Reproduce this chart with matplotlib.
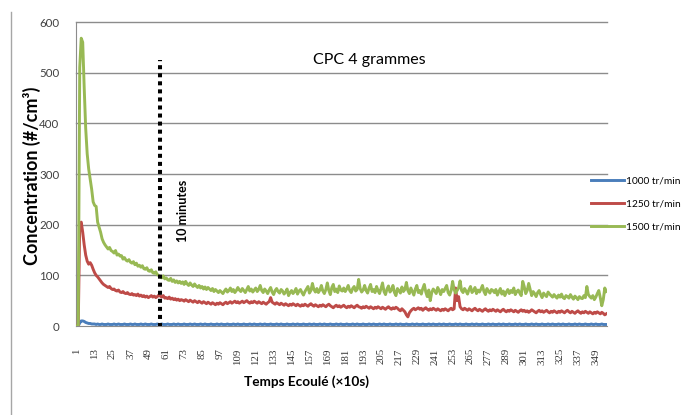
import numpy as np
import matplotlib
matplotlib.use("Agg")
import matplotlib.pyplot as plt
from matplotlib.lines import Line2D

series_names = ["1000 tr/min", "1250 tr/min", "1500 tr/min"]
series_colors = ["#4a7ebb", "#be4b48", "#98b954"]

rpm_1500 = [
    0, 0, 510, 568, 560, 470, 390, 340, 310, 290, 270, 245, 238, 236, 205, 195, 185, 172, 165, 160,
    156, 152, 155, 149, 147, 144, 149, 140, 142, 138, 139, 132, 135, 130, 128, 131, 126, 124, 127, 121,
    124, 118, 120, 116, 119, 113, 112, 115, 109, 108, 111, 105, 104, 107, 101, 100, 97, 95, 99, 93,
    95, 91, 90, 94, 88, 91, 86, 89, 85, 88, 84, 87, 82, 88, 83, 80, 85, 81, 78, 83,
    79, 76, 80, 75, 78, 73, 77, 72, 76, 73, 70, 74, 68, 72, 69, 66, 70, 67, 64, 69,
    73, 67, 70, 75, 68, 72, 66, 70, 76, 71, 68, 74, 70, 66, 72, 78, 69, 73, 67, 71,
    75, 68, 72, 80, 70, 66, 73, 69, 64, 71, 76, 67, 62, 70, 74, 68, 65, 72, 69, 63,
    67, 73, 60, 66, 70, 64, 68, 74, 63, 69, 72, 66, 61, 68, 73, 78, 65, 70, 84, 72,
    67, 74, 66, 71, 80, 69, 64, 72, 85, 70, 62, 76, 82, 68, 73, 66, 79, 71, 69, 75,
    68, 73, 80, 70, 66, 74, 78, 69, 72, 92, 74, 67, 71, 80, 70, 65, 75, 82, 68, 72,
    66, 78, 70, 64, 74, 85, 68, 62, 73, 79, 67, 71, 80, 66, 60, 74, 70, 65, 77, 68,
    72, 86, 70, 64, 75, 68, 61, 73, 80, 66, 70, 63, 74, 82, 67, 58, 71, 50, 66, 73,
    69, 64, 76, 70, 62, 72, 68, 74, 80, 66, 61, 70, 88, 72, 65, 70, 75, 89, 70, 66,
    74, 69, 63, 72, 78, 66, 70, 76, 64, 71, 67, 73, 80, 68, 62, 74, 69, 65, 72, 70,
    66, 72, 61, 68, 74, 63, 69, 60, 67, 72, 64, 70, 66, 75, 62, 68, 71, 65, 60, 88,
    78, 64, 70, 84, 72, 60, 68, 64, 58, 66, 70, 62, 56, 65, 61, 58, 67, 63, 60, 57,
    62, 58, 55, 61, 57, 63, 56, 54, 60, 58, 55, 62, 57, 53, 59, 56, 52, 58, 55, 54,
    60, 56, 78, 62, 58, 55, 60, 52, 57, 64, 70, 56, 40, 52, 75, 68,
]

rpm_1250 = [
    0, 0, 200, 205, 185, 160, 140, 128, 122, 125, 120, 112, 105, 100, 97, 93, 89, 85, 82, 80,
    78, 76, 78, 74, 72, 73, 70, 69, 71, 67, 66, 68, 65, 64, 66, 63, 62, 64, 61, 62,
    60, 63, 59, 61, 58, 60, 57, 59, 56, 58, 60, 57, 59, 56, 58, 61, 59, 57, 60, 55,
    56, 54, 57, 53, 55, 52, 54, 51, 53, 50, 52, 51, 49, 52, 50, 48, 51, 49, 47, 50,
    48, 46, 49, 47, 45, 48, 46, 44, 47, 45, 43, 46, 44, 42, 45, 43, 46, 44, 42, 45,
    47, 44, 46, 48, 45, 47, 49, 46, 48, 45, 47, 49, 46, 48, 50, 47, 45, 48, 46, 49,
    47, 45, 48, 46, 44, 47, 45, 43, 46, 48, 56, 47, 45, 43, 46, 44, 42, 45, 43, 41,
    44, 42, 40, 43, 41, 44, 42, 40, 43, 41, 39, 42, 40, 43, 41, 39, 42, 44, 41, 39,
    42, 40, 38, 41, 39, 42, 40, 38, 41, 43, 40, 38, 36, 39, 41, 38, 40, 37, 39, 41,
    38, 36, 39, 37, 40, 38, 36, 39, 41, 38, 37, 35, 38, 36, 39, 37, 35, 38, 36, 34,
    37, 35, 38, 36, 34, 37, 35, 33, 36, 38, 35, 33, 36, 34, 37, 35, 32, 30, 34, 31,
    28, 22, 18, 26, 30, 33, 35, 32, 34, 36, 33, 35, 31, 34, 36, 33, 31, 34, 32, 35,
    33, 31, 34, 32, 30, 33, 31, 34, 32, 30, 33, 35, 32, 34, 75, 50, 58, 38, 34, 32,
    35, 33, 31, 34, 32, 30, 33, 35, 32, 30, 33, 31, 29, 32, 34, 31, 29, 32, 30, 33,
    31, 29, 32, 30, 28, 31, 33, 30, 28, 31, 29, 32, 30, 28, 31, 29, 27, 30, 32, 29,
    31, 28, 30, 27, 29, 32, 30, 28, 26, 29, 31, 28, 30, 27, 29, 31, 28, 26, 29, 27,
    30, 28, 26, 29, 27, 30, 28, 26, 29, 31, 28, 26, 29, 27, 25, 28, 30, 27, 25, 28,
    26, 29, 27, 25, 28, 26, 24, 27, 25, 28, 26, 24, 27, 25, 22, 24,
]

rpm_1000 = [
    0, 0, 6, 10, 10, 9, 7, 6, 5, 5, 4, 4, 4, 3, 4, 3, 3, 4, 3, 3,
    3, 4, 3, 3, 3, 4, 3, 3, 4, 3, 3, 3, 4, 3, 3, 3, 4, 3, 3, 4,
    3, 3, 3, 4, 3, 3, 4, 3, 3, 3, 4, 3, 3, 3, 4, 3, 3, 4, 3, 3,
    3, 4, 3, 3, 3, 4, 3, 3, 4, 3, 3, 3, 4, 3, 3, 3, 4, 3, 3, 4,
    3, 3, 3, 4, 3, 3, 4, 3, 3, 3, 4, 3, 3, 3, 4, 3, 3, 4, 3, 3,
    3, 4, 3, 3, 3, 4, 3, 3, 4, 3, 3, 3, 4, 3, 3, 3, 4, 3, 3, 4,
    3, 3, 3, 4, 3, 3, 4, 3, 3, 3, 4, 3, 3, 3, 4, 3, 3, 4, 3, 3,
    3, 4, 3, 3, 3, 4, 3, 3, 4, 3, 3, 3, 4, 3, 3, 3, 4, 3, 3, 4,
    3, 3, 3, 4, 3, 3, 4, 3, 3, 3, 4, 3, 3, 3, 4, 3, 3, 4, 3, 3,
    3, 4, 3, 3, 3, 4, 3, 3, 4, 3, 3, 3, 4, 3, 3, 3, 4, 3, 3, 4,
    3, 3, 3, 4, 3, 3, 4, 3, 3, 3, 4, 3, 3, 3, 4, 3, 3, 4, 3, 3,
    3, 4, 3, 3, 3, 4, 3, 3, 4, 3, 3, 3, 4, 3, 3, 3, 4, 3, 3, 4,
    3, 3, 3, 4, 3, 3, 4, 3, 3, 3, 4, 3, 3, 3, 4, 3, 3, 4, 3, 3,
    3, 4, 3, 3, 3, 4, 3, 3, 4, 3, 3, 3, 4, 3, 3, 3, 4, 3, 3, 4,
    3, 3, 3, 4, 3, 3, 4, 3, 3, 3, 4, 3, 3, 3, 4, 3, 3, 4, 3, 3,
    3, 4, 3, 3, 3, 4, 3, 3, 4, 3, 3, 3, 4, 3, 3, 3, 4, 3, 3, 4,
    3, 3, 3, 4, 3, 3, 4, 3, 3, 3, 4, 3, 3, 3, 4, 3, 3, 4, 3, 3,
    3, 4, 3, 3, 3, 4, 3, 3, 4, 3, 3, 3, 4, 3, 3, 3,
]

n_categories = 356
x_tick_labels = [str(v) for v in range(1, 350, 12)]
y_ticks = [0, 100, 200, 300, 400, 500, 600]
marker_x = 56.6          # "10 minutes" marker (category position)
marker_top = 525

FONT = ["Lato", "DejaVu Sans"]

fig = plt.figure(figsize=(6.88, 4.15), dpi=100)
ax = fig.add_axes([76 / 688, 1 - 326 / 415, (607 - 76) / 688, (326 - 22) / 415])

grid_color = "#8c8c8c"
for yv in y_ticks[1:]:
    ax.axhline(yv, color=grid_color, lw=1.0, zorder=0, clip_on=False)

data = [rpm_1000, rpm_1250, rpm_1500]
for vals, name, col in zip(data, series_names, series_colors):
    xs = np.arange(1, len(vals) + 1)
    ax.plot(xs, vals, color=col, lw=2.1, label=name, zorder=3, solid_joinstyle="round")

ax.vlines(marker_x, -2, marker_top, colors="black", lw=2.9,
          linestyles=[(0, (1.0, 1.0))], zorder=4)
ax.text(marker_x + 15.5, 227, "10 minutes", rotation=90, ha="center", va="center",
        fontsize=9, fontweight="bold", family=FONT)
ax.text(197, 525, "CPC 4 grammes", ha="center", va="center", fontsize=11.5, family=FONT)

ax.set_xlim(0.5, n_categories + 0.5)
ax.set_ylim(0, 600)
ax.set_xticks(np.arange(1, 350, 12))
ax.set_xticklabels(x_tick_labels, rotation=90, fontsize=7.8, family="Liberation Serif",
                   color="#333333")
ax.set_yticks(y_ticks)
ax.set_yticklabels([str(v) for v in y_ticks], fontsize=8.3, family=FONT, color="#404040")
ax.tick_params(axis="both", length=0)
ax.tick_params(axis="y", pad=12)
ax.tick_params(axis="x", pad=16)

for side in ["top", "right"]:
    ax.spines[side].set_visible(False)
ax.spines["left"].set_color(grid_color)
ax.spines["bottom"].set_color(grid_color)

fig.text(32 / 688, 1 - 176 / 415, "Concentration (#/cm³)", rotation=90, ha="center",
         va="center", fontsize=13, fontweight="bold", family=FONT)
fig.text(307 / 688, 1 - 382 / 415, "Temps Ecoulé (×10s)", ha="center", va="center",
         fontsize=9.8, fontweight="bold", family=FONT)

leg = ax.legend(loc="center left", bbox_to_anchor=(582 / 688, 1 - 204 / 415),
                bbox_transform=fig.transFigure, frameon=False,
                handlelength=3.2, handletextpad=0.25, labelspacing=1.4,
                prop={"family": FONT, "size": 7.3})

fig.add_artist(Line2D([11 / 688, 11 / 688], [0, 1 - 12 / 415], color="#a6a6a6", lw=1.0))

fig.savefig("out.png", dpi=100)
